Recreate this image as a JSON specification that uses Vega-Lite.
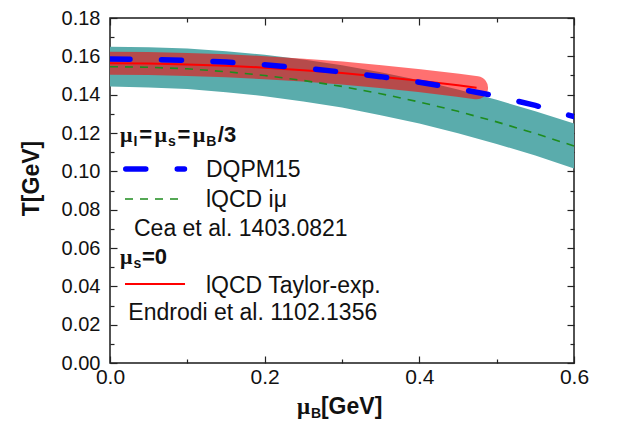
{
  "$schema": "https://vega.github.io/schema/vega-lite/v6.json",
  "width": 464,
  "height": 345,
  "autosize": {"type": "none"},
  "padding": {"left": 110, "top": 18, "right": 53, "bottom": 58},
  "background": "white",
  "config": {
    "view": {"stroke": "#1a1a1a", "strokeWidth": 1.5},
    "axis": {"grid": false, "domain": false, "labelFlush": false, "labelFont": "Liberation Sans", "labelFontSize": 21, "labelColor": "#111111", "tickColor": "#222222", "tickWidth": 1.2}
  },
  "resolve": {"axis": {"x": "independent", "y": "independent"}},
  "datasets": {
    "teal": [
      {"mu": 0.0, "lo": 0.1442, "hi": 0.1650},
      {"mu": 0.05, "lo": 0.1438, "hi": 0.1648},
      {"mu": 0.1, "lo": 0.1429, "hi": 0.1641},
      {"mu": 0.15, "lo": 0.1413, "hi": 0.1627},
      {"mu": 0.2, "lo": 0.1392, "hi": 0.1608},
      {"mu": 0.25, "lo": 0.1365, "hi": 0.1583},
      {"mu": 0.3, "lo": 0.1333, "hi": 0.1553},
      {"mu": 0.35, "lo": 0.1293, "hi": 0.1517},
      {"mu": 0.4, "lo": 0.1249, "hi": 0.1475},
      {"mu": 0.45, "lo": 0.1199, "hi": 0.1427},
      {"mu": 0.5, "lo": 0.1143, "hi": 0.1373},
      {"mu": 0.55, "lo": 0.1082, "hi": 0.1314},
      {"mu": 0.6, "lo": 0.1015, "hi": 0.1249}
    ],
    "green": [
      {"mu": 0.0, "T": 0.1546, "part": "curve"},
      {"mu": 0.05, "T": 0.1543, "part": "curve"},
      {"mu": 0.1, "T": 0.1535, "part": "curve"},
      {"mu": 0.15, "T": 0.1520, "part": "curve"},
      {"mu": 0.2, "T": 0.1500, "part": "curve"},
      {"mu": 0.25, "T": 0.1474, "part": "curve"},
      {"mu": 0.3, "T": 0.1443, "part": "curve"},
      {"mu": 0.35, "T": 0.1405, "part": "curve"},
      {"mu": 0.4, "T": 0.1362, "part": "curve"},
      {"mu": 0.45, "T": 0.1313, "part": "curve"},
      {"mu": 0.5, "T": 0.1258, "part": "curve"},
      {"mu": 0.55, "T": 0.1198, "part": "curve"},
      {"mu": 0.6, "T": 0.1132, "part": "curve"},
      {"mu": 0.0194, "T": 0.0856, "part": "key"},
      {"mu": 0.0970, "T": 0.0856, "part": "key"}
    ],
    "redline": [
      {"mu": 0.0, "T": 0.1564, "part": "curve"},
      {"mu": 0.05, "T": 0.1563, "part": "curve"},
      {"mu": 0.1, "T": 0.1558, "part": "curve"},
      {"mu": 0.15, "T": 0.1551, "part": "curve"},
      {"mu": 0.2, "T": 0.1541, "part": "curve"},
      {"mu": 0.25, "T": 0.1528, "part": "curve"},
      {"mu": 0.3, "T": 0.1513, "part": "curve"},
      {"mu": 0.35, "T": 0.1494, "part": "curve"},
      {"mu": 0.4, "T": 0.1473, "part": "curve"},
      {"mu": 0.45, "T": 0.1449, "part": "curve"},
      {"mu": 0.474, "T": 0.1436, "part": "curve"},
      {"mu": 0.0194, "T": 0.0412, "part": "key"},
      {"mu": 0.0970, "T": 0.0412, "part": "key"}
    ],
    "blue": [
      {"mu": 0.0, "T": 0.1586, "part": "curve"},
      {"mu": 0.05, "T": 0.1584, "part": "curve"},
      {"mu": 0.1, "T": 0.1579, "part": "curve"},
      {"mu": 0.15, "T": 0.1570, "part": "curve"},
      {"mu": 0.2, "T": 0.1556, "part": "curve"},
      {"mu": 0.25, "T": 0.1539, "part": "curve"},
      {"mu": 0.3, "T": 0.1518, "part": "curve"},
      {"mu": 0.35, "T": 0.1494, "part": "curve"},
      {"mu": 0.4, "T": 0.1465, "part": "curve"},
      {"mu": 0.45, "T": 0.1431, "part": "curve"},
      {"mu": 0.5, "T": 0.1392, "part": "curve"},
      {"mu": 0.55, "T": 0.1344, "part": "curve"},
      {"mu": 0.6, "T": 0.1285, "part": "curve"},
      {"mu": 0.0204, "T": 0.1012, "part": "key"},
      {"mu": 0.0963, "T": 0.1012, "part": "key"}
    ],
    "labels": [
      {"mu": 0.12414, "T": 0.09689, "text": "DQPM15"},
      {"mu": 0.12414, "T": 0.08165, "text": "lQCD iμ"},
      {"mu": 0.03103, "T": 0.06652, "text": "Cea et al. 1403.0821"},
      {"mu": 0.12414, "T": 0.03678, "text": "lQCD Taylor-exp."},
      {"mu": 0.02366, "T": 0.02243, "text": "Endrodi et al. 1102.1356"}
    ],
    "mus": [
      {"mu": 0.01293, "T": 0.1153, "text": "μ"},
      {"mu": 0.05754, "T": 0.1153, "text": "μ"},
      {"mu": 0.10707, "T": 0.1153, "text": "μ"},
      {"mu": 0.01293, "T": 0.05165, "text": "μ"}
    ],
    "bold": [
      {"mu": 0.03776, "T": 0.1153, "text": "="},
      {"mu": 0.08729, "T": 0.1153, "text": "="},
      {"mu": 0.13940, "T": 0.1153, "text": "/3"},
      {"mu": 0.04138, "T": 0.05165, "text": "=0"}
    ],
    "subs": [
      {"mu": 0.03039, "T": 0.1132, "text": "I"},
      {"mu": 0.07500, "T": 0.1132, "text": "s"},
      {"mu": 0.12453, "T": 0.1132, "text": "B"},
      {"mu": 0.03039, "T": 0.04957, "text": "s"},
      {"mu": 0.2599, "T": -0.0287, "text": "B"}
    ],
    "xtitle": [
      {"mu": 0.2418, "T": -0.02661, "text": "μ", "font": "serif"},
      {"mu": 0.2728, "T": -0.02661, "text": "[GeV]", "font": "sans"}
    ]
  },
  "layer": [
    {
      "data": {"name": "teal"},
      "mark": {"type": "area", "color": "#5aacac", "clip": true},
      "encoding": {
        "x": {"field": "mu", "type": "quantitative", "scale": {"domain": [0, 0.6], "nice": false},
              "axis": {"orient": "bottom", "values": [0, 0.2, 0.4, 0.6], "format": ".1f", "tickSize": -7, "labelPadding": 10, "title": null}},
        "y": {"field": "lo", "type": "quantitative", "scale": {"domain": [0, 0.18], "nice": false},
              "axis": {"orient": "left", "values": [0, 0.02, 0.04, 0.06, 0.08, 0.1, 0.12, 0.14, 0.16, 0.18], "format": ".2f", "tickSize": -7, "labelPadding": 17, "labelFontSize": 20,
                       "title": "T[GeV]", "titleFont": "Liberation Sans", "titleFontSize": 23, "titleFontWeight": "bold", "titleColor": "#111111",
                       "titleAngle": -90, "titleAlign": "center", "titleBaseline": "middle", "titleX": -79, "titleY": 160}},
        "y2": {"field": "hi"}
      }
    },
    {
      "data": {"name": "redline"},
      "transform": [{"filter": "datum.part === 'curve'"}],
      "mark": {"type": "line", "color": "#ff0000", "opacity": 0.56, "strokeWidth": 23, "strokeCap": "round", "strokeJoin": "round", "clip": true},
      "encoding": {
        "x": {"field": "mu", "type": "quantitative", "scale": {"domain": [0, 0.6], "nice": false},
              "axis": {"orient": "top", "values": [0, 0.2, 0.4, 0.6], "labels": false, "tickSize": -7, "title": null}},
        "y": {"field": "T", "type": "quantitative", "scale": {"domain": [0, 0.18], "nice": false},
              "axis": {"orient": "right", "values": [0, 0.02, 0.04, 0.06, 0.08, 0.1, 0.12, 0.14, 0.16, 0.18], "labels": false, "tickSize": -7, "title": null}}
      }
    },
    {
      "data": {"name": "green"},
      "mark": {"type": "line", "color": "#1e8c1e", "strokeWidth": 1.6, "strokeDash": [8, 7]},
      "encoding": {
        "x": {"field": "mu", "type": "quantitative", "scale": {"domain": [0, 0.6], "nice": false},
              "axis": {"orient": "bottom", "values": [0.1, 0.3, 0.5], "labels": false, "tickSize": -4, "title": null}},
        "y": {"field": "T", "type": "quantitative", "scale": {"domain": [0, 0.18], "nice": false},
              "axis": {"orient": "left", "values": [0.01, 0.03, 0.05, 0.07, 0.09, 0.11, 0.13, 0.15, 0.17], "labels": false, "tickSize": -4, "title": null}},
        "detail": {"field": "part"}
      }
    },
    {
      "data": {"name": "redline"},
      "mark": {"type": "line", "color": "#ff0000", "strokeWidth": 2},
      "encoding": {
        "x": {"field": "mu", "type": "quantitative", "scale": {"domain": [0, 0.6], "nice": false},
              "axis": {"orient": "top", "values": [0.1, 0.3, 0.5], "labels": false, "tickSize": -4, "title": null}},
        "y": {"field": "T", "type": "quantitative", "scale": {"domain": [0, 0.18], "nice": false},
              "axis": {"orient": "right", "values": [0.01, 0.03, 0.05, 0.07, 0.09, 0.11, 0.13, 0.15, 0.17], "labels": false, "tickSize": -4, "title": null}},
        "detail": {"field": "part"}
      }
    },
    {
      "data": {"name": "blue"},
      "mark": {"type": "line", "color": "#0000ff", "strokeWidth": 5.5, "strokeDash": [20, 31.5], "strokeCap": "round", "clip": true},
      "encoding": {
        "x": {"field": "mu", "type": "quantitative", "scale": {"domain": [0, 0.6], "nice": false}, "axis": null},
        "y": {"field": "T", "type": "quantitative", "scale": {"domain": [0, 0.18], "nice": false}, "axis": null},
        "detail": {"field": "part"}
      }
    },
    {
      "data": {"name": "labels"},
      "mark": {"type": "text", "align": "left", "baseline": "alphabetic", "font": "Liberation Sans", "fontSize": 23, "color": "#111111"},
      "encoding": {
        "x": {"field": "mu", "type": "quantitative", "scale": {"domain": [0, 0.6], "nice": false}, "axis": null},
        "y": {"field": "T", "type": "quantitative", "scale": {"domain": [0, 0.18], "nice": false}, "axis": null},
        "text": {"field": "text"}
      }
    },
    {
      "data": {"name": "mus"},
      "mark": {"type": "text", "align": "left", "baseline": "alphabetic", "font": "Liberation Serif", "fontWeight": "bold", "fontSize": 22, "color": "#111111"},
      "encoding": {
        "x": {"field": "mu", "type": "quantitative", "scale": {"domain": [0, 0.6], "nice": false}, "axis": null},
        "y": {"field": "T", "type": "quantitative", "scale": {"domain": [0, 0.18], "nice": false}, "axis": null},
        "text": {"field": "text"}
      }
    },
    {
      "data": {"name": "bold"},
      "mark": {"type": "text", "align": "left", "baseline": "alphabetic", "font": "Liberation Sans", "fontWeight": "bold", "fontSize": 22, "color": "#111111"},
      "encoding": {
        "x": {"field": "mu", "type": "quantitative", "scale": {"domain": [0, 0.6], "nice": false}, "axis": null},
        "y": {"field": "T", "type": "quantitative", "scale": {"domain": [0, 0.18], "nice": false}, "axis": null},
        "text": {"field": "text"}
      }
    },
    {
      "data": {"name": "subs"},
      "mark": {"type": "text", "align": "left", "baseline": "alphabetic", "font": "Liberation Sans", "fontWeight": "bold", "fontSize": 14, "color": "#111111"},
      "encoding": {
        "x": {"field": "mu", "type": "quantitative", "scale": {"domain": [0, 0.6], "nice": false}, "axis": null},
        "y": {"field": "T", "type": "quantitative", "scale": {"domain": [0, 0.18], "nice": false}, "axis": null},
        "text": {"field": "text"}
      }
    },
    {
      "data": {"name": "xtitle"},
      "transform": [{"filter": "datum.font === 'serif'"}],
      "mark": {"type": "text", "align": "left", "baseline": "alphabetic", "font": "Liberation Serif", "fontWeight": "bold", "fontSize": 23, "color": "#111111"},
      "encoding": {
        "x": {"field": "mu", "type": "quantitative", "scale": {"domain": [0, 0.6], "nice": false}, "axis": null},
        "y": {"field": "T", "type": "quantitative", "scale": {"domain": [0, 0.18], "nice": false}, "axis": null},
        "text": {"field": "text"}
      }
    },
    {
      "data": {"name": "xtitle"},
      "transform": [{"filter": "datum.font === 'sans'"}],
      "mark": {"type": "text", "align": "left", "baseline": "alphabetic", "font": "Liberation Sans", "fontWeight": "bold", "fontSize": 23, "color": "#111111"},
      "encoding": {
        "x": {"field": "mu", "type": "quantitative", "scale": {"domain": [0, 0.6], "nice": false}, "axis": null},
        "y": {"field": "T", "type": "quantitative", "scale": {"domain": [0, 0.18], "nice": false}, "axis": null},
        "text": {"field": "text"}
      }
    }
  ]
}
